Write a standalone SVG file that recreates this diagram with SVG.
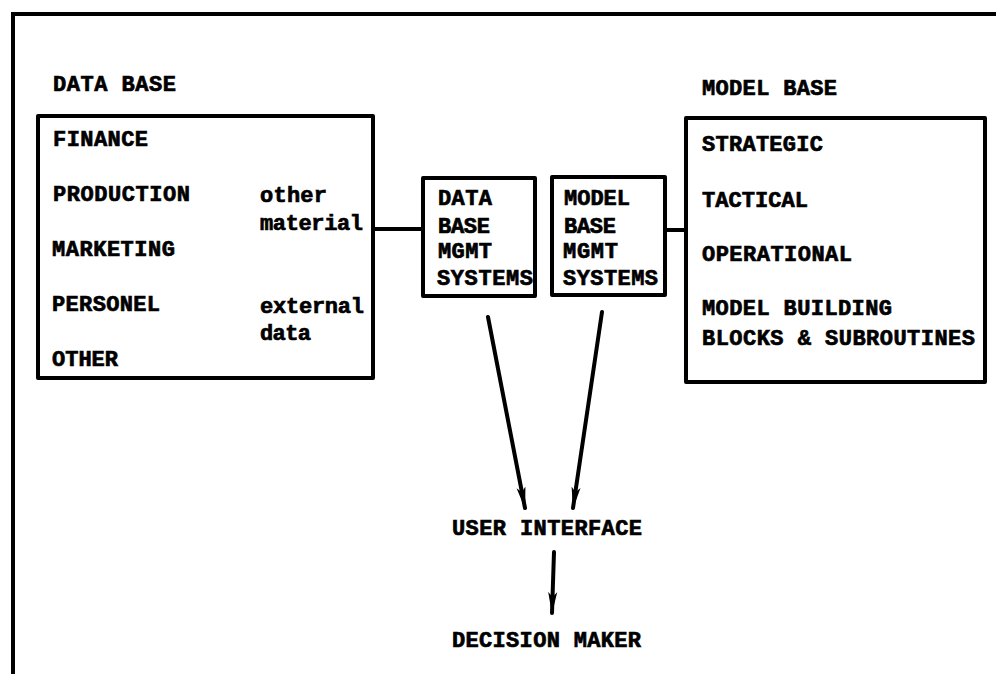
<svg xmlns="http://www.w3.org/2000/svg" width="996" height="674" viewBox="0 0 996 674">
  <style>
    .t { font-family: "Liberation Mono", "DejaVu Sans Mono", monospace; font-weight: bold; font-size: 22px; fill: #000; stroke: #000; stroke-width: 0.7; }
    .box { fill: none; stroke: #000; stroke-width: 4; stroke-linejoin: round; }
    .ln { fill: none; stroke: #000; stroke-width: 4; stroke-linecap: round; }
  </style>
  <defs>
    <marker id="head" viewBox="0 0 22 11" refX="21" refY="5.5" markerWidth="22" markerHeight="11" markerUnits="userSpaceOnUse" orient="auto">
      <path d="M0,1 L22,5.5 L0,10 L5,5.5 Z" fill="#000"/>
    </marker>
  </defs>
  <rect width="996" height="674" fill="#fff"/>

  <!-- outer frame: top and left edges only -->
  <path class="ln" d="M13,674 L13,14 L996,14"/>

  <g id="data-base">
    <text class="t" x="53" y="91" textLength="123" lengthAdjust="spacing">DATA BASE</text>
    <rect class="box" x="38" y="116" width="335" height="262"/>
    <text class="t" x="53" y="146" textLength="95" lengthAdjust="spacing">FINANCE</text>
    <text class="t" x="53" y="201" textLength="137" lengthAdjust="spacing">PRODUCTION</text>
    <text class="t" x="52" y="256" textLength="123" lengthAdjust="spacing">MARKETING</text>
    <text class="t" x="52" y="311" textLength="108" lengthAdjust="spacing">PERSONEL</text>
    <text class="t" x="52" y="366" textLength="66" lengthAdjust="spacing">OTHER</text>
    <text class="t" x="260" y="202" textLength="67" lengthAdjust="spacing">other</text>
    <text class="t" x="260" y="230" textLength="103" lengthAdjust="spacing">material</text>
    <text class="t" x="260" y="313" textLength="104" lengthAdjust="spacing">external</text>
    <text class="t" x="260" y="340" textLength="51" lengthAdjust="spacing">data</text>
  </g>

  <g id="dbms">
    <rect class="box" x="423" y="178" width="112" height="118"/>
    <text class="t" x="438" y="205" textLength="54" lengthAdjust="spacing">DATA</text>
    <text class="t" x="438" y="233" textLength="52" lengthAdjust="spacing">BASE</text>
    <text class="t" x="438" y="258" textLength="54" lengthAdjust="spacing">MGMT</text>
    <text class="t" x="437" y="285" textLength="96" lengthAdjust="spacing">SYSTEMS</text>
  </g>

  <g id="mbms">
    <rect class="box" x="552" y="177" width="113" height="118"/>
    <text class="t" x="564" y="205" textLength="66" lengthAdjust="spacing">MODEL</text>
    <text class="t" x="564" y="233" textLength="52" lengthAdjust="spacing">BASE</text>
    <text class="t" x="563" y="258" textLength="55" lengthAdjust="spacing">MGMT</text>
    <text class="t" x="563" y="285" textLength="95" lengthAdjust="spacing">SYSTEMS</text>
  </g>

  <g id="model-base">
    <text class="t" x="702" y="95" textLength="135" lengthAdjust="spacing">MODEL BASE</text>
    <rect class="box" x="686" y="118" width="299" height="264"/>
    <text class="t" x="702" y="151" textLength="121" lengthAdjust="spacing">STRATEGIC</text>
    <text class="t" x="702" y="207" textLength="106" lengthAdjust="spacing">TACTICAL</text>
    <text class="t" x="702" y="261" textLength="150" lengthAdjust="spacing">OPERATIONAL</text>
    <text class="t" x="702" y="315" textLength="190" lengthAdjust="spacing">MODEL BUILDING</text>
    <text class="t" x="702" y="345" textLength="273" lengthAdjust="spacing">BLOCKS &amp; SUBROUTINES</text>
  </g>

  <g id="user-interface">
    <text class="t" x="452" y="535" textLength="190" lengthAdjust="spacing">USER INTERFACE</text>
  </g>

  <g id="decision-maker">
    <text class="t" x="452" y="647" textLength="189" lengthAdjust="spacing">DECISION MAKER</text>
  </g>

  <g id="connectors">
    <line class="ln" x1="373" y1="229" x2="423" y2="229"/>
    <line class="ln" x1="665" y1="230" x2="686" y2="230"/>
    <line class="ln" x1="488" y1="317" x2="525" y2="508" marker-end="url(#head)"/>
    <line class="ln" x1="602" y1="312" x2="573" y2="508" marker-end="url(#head)"/>
    <line class="ln" x1="554" y1="552" x2="552" y2="613" marker-end="url(#head)"/>
  </g>
</svg>
